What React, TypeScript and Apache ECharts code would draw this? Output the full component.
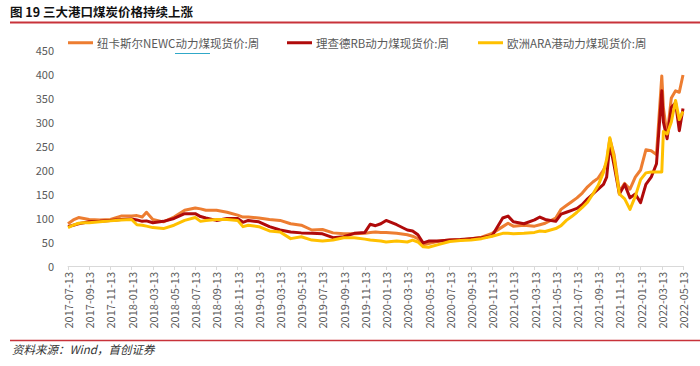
import React, { useEffect, useRef } from "react";
import * as echarts from "echarts";

// month index since 2017-07-13
const monthIdx = [
  0, 0.5, 1, 1.5, 2, 3, 4, 5, 6, 6.5, 7, 7.4, 8, 9, 10, 11, 12, 12.5, 13, 14, 15, 16, 16.5, 17, 18, 19, 20,
  21, 22, 23, 24, 25, 26, 27, 28, 28.5, 29, 29.5, 30, 31, 32, 32.5, 33, 33.5, 34, 35, 36, 37, 38, 39, 40,
  41, 41.5, 42, 43, 44, 44.5, 45, 46, 46.5, 47, 47.5, 48, 48.5, 49, 49.5, 50, 50.5, 50.8, 51.1, 51.5, 52,
  52.5, 53, 53.5, 54, 54.5, 55, 55.5, 56, 56.15, 56.5, 56.9, 57.3, 57.65, 58,
];

const newcValues = [
  88, 96, 101, 99, 97, 96, 97, 104, 104, 105, 102, 112, 97, 92, 102, 116, 121, 119, 116, 116, 112, 106, 102, 102, 100, 97, 95,
  88, 85, 75, 76, 69, 67, 67, 68, 70, 71, 70, 70, 68, 65, 62, 57, 44, 47, 52, 54, 54, 57, 60, 68,
  82, 89, 83, 85, 83, 86, 89, 100, 118, 126, 134, 142, 152, 165, 175, 183, 200, 215, 265, 232, 155,
  172, 160, 185, 200, 242, 240, 232, 396, 330, 272, 350, 365, 362, 398,
];

const rbValues = [
  82, 85, 88, 90, 92, 93, 95, 97, 98, 96, 93, 94, 90, 93, 99, 109, 109, 103, 100, 95, 99, 99, 91, 95, 92, 82, 75,
  71, 69, 68, 67, 59, 61, 68, 70, 87, 84, 88, 95, 86, 75, 73, 65, 48, 52, 52, 54, 55, 57, 59, 63,
  100, 104, 92, 88, 96, 102, 97, 93, 108, 112, 116, 120, 128, 140, 150, 160, 170, 185, 255, 210, 150,
  170, 142, 150, 132, 170, 185, 213, 365, 300, 265, 330, 340, 282, 328,
];

const araValues = [
  80, 85, 89, 90, 90, 92, 94, 96, 97, 86, 85, 83, 80, 78, 85, 95, 101, 93, 95, 97, 97, 95, 82, 85, 82, 73, 71,
  57, 61, 54, 52, 54, 59, 59, 56, 54, 53, 52, 50, 52, 50, 54, 50, 40, 39, 45, 51, 53, 54, 57, 62,
  68, 68, 67, 68, 70, 73, 72, 78, 84, 95, 103, 112, 122, 133, 150, 168, 195, 222, 267, 225, 150,
  140, 118, 145, 180, 194, 196, 196, 196, 280, 275, 300, 345, 305, 322,
];

const xTickLabels = [
  "2017-07-13", "2017-09-13", "2017-11-13",
  "2018-01-13", "2018-03-13", "2018-05-13", "2018-07-13", "2018-09-13", "2018-11-13",
  "2019-01-13", "2019-03-13", "2019-05-13", "2019-07-13", "2019-09-13", "2019-11-13",
  "2020-01-13", "2020-03-13", "2020-05-13", "2020-07-13", "2020-09-13", "2020-11-13",
  "2021-01-13", "2021-03-13", "2021-05-13", "2021-07-13", "2021-09-13", "2021-11-13",
  "2022-01-13", "2022-03-13", "2022-05-13",
];

const seriesNames = ["纽卡斯尔NEWC动力煤现货价:周", "理查德RB动力煤现货价:周", "欧洲ARA港动力煤现货价:周"];
const seriesColors = ["#ED7D31", "#B00A0A", "#FFC000"];
const legendLefts = [68, 287, 478];

const FONT = "'Noto Sans CJK SC', 'Noto Sans', sans-serif";

export default function App() {
  const ref = useRef<HTMLDivElement>(null);
  useEffect(() => {
    if (!ref.current) return;
    const chart = echarts.init(ref.current, null, { renderer: "svg" });
    const valuesList = [newcValues, rbValues, araValues];
    chart.setOption({
      animation: false,
      backgroundColor: "#ffffff",
      textStyle: { fontFamily: FONT },
      grid: { left: 68, right: 17, top: 50, bottom: 100 },
      legend: seriesNames.map((name, i) => ({
        left: legendLefts[i],
        top: 37,
        itemWidth: 25,
        itemHeight: 3,
        icon: "rect",
        padding: 0,
        textStyle: { color: "#595959", fontSize: 11.5, fontFamily: FONT, padding: [0, 0, 0, -1] },
        data: [name],
      })),
      xAxis: {
        type: "value",
        min: 0,
        max: 58,
        interval: 2,
        splitLine: { show: false },
        axisLine: { show: true, lineStyle: { color: "#d9d9d9", width: 1 } },
        axisTick: { show: true, length: 4, lineStyle: { color: "#d9d9d9" } },
        axisLabel: {
          rotate: 90,
          color: "#595959",
          fontSize: 11,
          margin: 6,
          showMinLabel: true,
          showMaxLabel: true,
          formatter: (v: number) => xTickLabels[Math.round(v / 2)] ?? "",
        },
      },
      yAxis: {
        type: "value",
        min: 0,
        max: 450,
        interval: 50,
        splitLine: { show: false },
        axisLine: { show: false },
        axisTick: { show: false },
        axisLabel: { color: "#595959", fontSize: 11, margin: 14 },
      },
      series: seriesNames.map((name, i) => ({
        name,
        type: "line",
        symbol: "none",
        color: seriesColors[i],
        lineStyle: { width: 3, color: seriesColors[i], join: "round" },
        data: monthIdx.map((m, k) => [m, valuesList[i][k]]),
      })),
      graphic: [
        {
          type: "text",
          left: 10,
          top: 5,
          style: { text: "图 19 三大港口煤炭价格持续上涨", fill: "#111", fontSize: 12.5, fontWeight: "bold", fontFamily: FONT },
        },
        { type: "line", shape: { x1: 10, y1: 22.5, x2: 700, y2: 22.5 }, style: { stroke: "#C8323A", lineWidth: 2 } },
        { type: "line", shape: { x1: 175, y1: 53.5, x2: 210, y2: 53.5 }, style: { stroke: "#30A8C8", lineWidth: 1.2 } },
        { type: "line", shape: { x1: 10, y1: 340.5, x2: 700, y2: 340.5 }, style: { stroke: "#C8323A", lineWidth: 1.5 } },
        {
          type: "text",
          left: 12,
          top: 343,
          style: { text: "资料来源：Wind，首创证券", fill: "#333", fontSize: 11.5, fontStyle: "italic", fontFamily: FONT },
        },
      ],
    });
    return () => chart.dispose();
  }, []);
  return <div ref={ref} style={{ width: 700, height: 366, position: "absolute", left: 0, top: 0 }} />;
}
